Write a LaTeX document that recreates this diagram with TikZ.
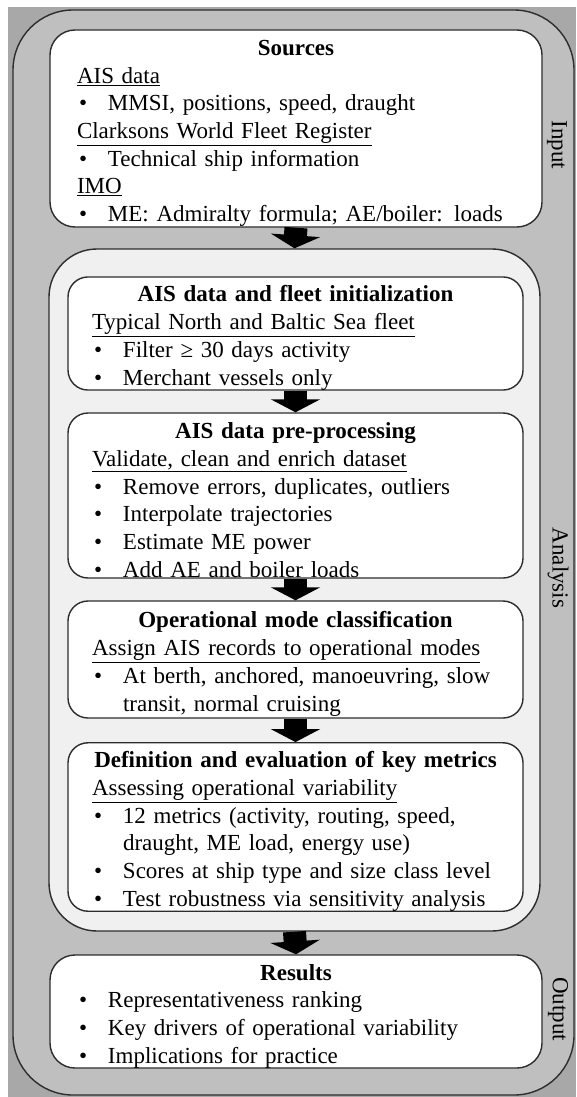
\documentclass[tikz,border=0pt]{standalone}
\usepackage{fontspec}
\setmainfont{Liberation Serif}
\usetikzlibrary{arrows.meta}
\definecolor{bggray}{RGB}{168,168,168}
\definecolor{ringgray}{RGB}{191,191,191}
\definecolor{anagray}{RGB}{240,240,240}
\definecolor{edgegray}{RGB}{45,45,45}
\newcommand{\bul}{\hspace*{2pt}\makebox[29pt][l]{\textbullet}}
\newcommand{\hang}{\hspace*{31pt}}
\newcommand{\boxtitle}[1]{\makebox[\linewidth]{\rule{0pt}{25pt}\textbf{#1}}}
\tikzset{
  mainfont/.style={font=\fontsize{23}{27.7}\selectfont},
  frame/.style={draw=edgegray, line width=1.4pt, inner sep=0pt},
  srcbox/.style={frame, fill=white, rounded corners=25pt, minimum width=492pt,
    text width=438pt, align=left, mainfont},
  stagebox/.style={frame, fill=white, rounded corners=20pt, minimum width=455pt,
    text width=407pt, align=left, mainfont},
  blockarrow/.style={line width=23pt, draw=black, -{Triangle[length=13pt,width=49pt]}},
  sidelabel/.style={rotate=-90, mainfont}
}
\begin{document}
\begin{tikzpicture}[x=1pt, y=-1pt]
  \useasboundingbox (0,0) rectangle (576,1097);
  \fill[bggray] (8,7) rectangle (576,1097);
  % containers
  \node[frame, fill=ringgray, rounded corners=60pt, minimum width=561pt, minimum height=1085pt] (outer) at (293.5,552.5) {};
  \node[frame, fill=anagray, rounded corners=48pt, minimum width=491pt, minimum height=682pt] (ana) at (294.5,590) {};
  % input
  \node[srcbox, minimum height=197pt] (src) at (296,128.5) {%
    \boxtitle{Sources}\\
    \underline{AIS data}\\
    \bul MMSI, positions, speed, draught\\
    \underline{Clarksons World Fleet Register}\\
    \bul Technical ship information\\
    \underline{IMO}\\
    \bul ME: Admiralty formula; AE/boiler: loads};
  % analysis steps
  \node[stagebox, minimum height=111pt] (init) at (295.5,333.5) {%
    \boxtitle{AIS data and fleet initialization}\\
    \underline{Typical North and Baltic Sea fleet}\\
    \bul Filter ≥ 30 days activity\\
    \bul Merchant vessels only};
  \node[stagebox, minimum height=165pt] (prep) at (295.5,495.5) {%
    \boxtitle{AIS data pre-processing}\\
    \underline{Validate, clean and enrich dataset}\\
    \bul Remove errors, duplicates, outliers\\
    \bul Interpolate trajectories\\
    \bul Estimate ME power\\
    \bul Add AE and boiler loads};
  \node[stagebox, minimum height=117pt] (opmode) at (295.5,659.5) {%
    \boxtitle{Operational mode classification}\\
    \underline{Assign AIS records to operational modes}\\
    \bul At berth, anchored, manoeuvring, slow\\
    \hang transit, normal cruising};
  \node[stagebox, minimum height=168pt] (metrics) at (295.5,827) {%
    \boxtitle{Definition and evaluation of key metrics}\\
    \underline{Assessing operational variability}\\
    \bul 12 metrics (activity, routing, speed,\\
    \hang draught, ME load, energy use)\\
    \bul Scores at ship type and size class level\\
    \bul Test robustness via sensitivity analysis};
  % output
  \node[srcbox, minimum height=113pt] (res) at (296,1011.5) {%
    \boxtitle{Results}\\
    \bul Representativeness ranking\\
    \bul Key drivers of operational variability\\
    \bul Implications for practice};
  % side labels
  \node[sidelabel] (lbinput) at (557,145) {Input};
  \node[sidelabel] (lbanalysis) at (558,568) {Analysis};
  \node[sidelabel] (lboutput) at (558,1009) {Output};
  % flow
  \draw[blockarrow] (src.south) -- (ana.north);
  \draw[blockarrow] (init.south) -- (prep.north);
  \draw[blockarrow] (prep.south) -- (opmode.north);
  \draw[blockarrow] (opmode.south) -- (metrics.north);
  \draw[blockarrow] (ana.south) -- (res.north);
\end{tikzpicture}
\end{document}
